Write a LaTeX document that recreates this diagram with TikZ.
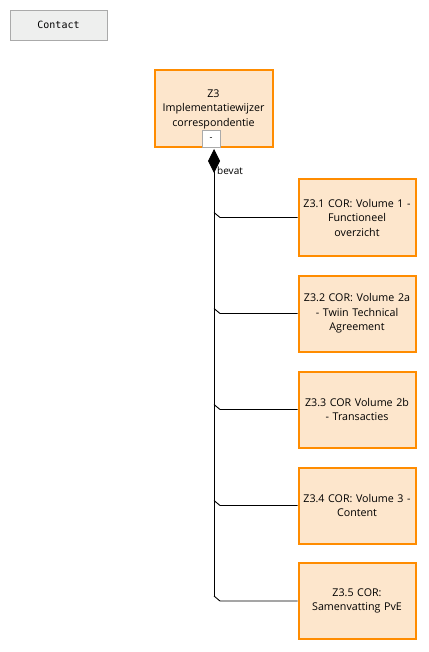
\documentclass[tikz,border=0pt]{standalone}
\usepackage{fontspec}
\setmainfont{Open Sans}
\setmonofont{DejaVu Sans Mono}
\usetikzlibrary{arrows.meta,calc}
\begin{document}
\begin{tikzpicture}[x=1pt,y=1pt,
  element/.style={draw=orange!90!yellow, line width=2pt, fill={rgb,255:red,253;green,230;blue,204}, minimum width=117pt, minimum height=76pt, align=center, inner sep=1pt, font=\fontsize{10.7}{14.5}\selectfont, text width=115pt},
  gray box/.style={draw={rgb,255:red,170;green,170;blue,170}, fill={rgb,255:red,238;green,239;blue,238}, line width=0.8pt},
  conn/.style={draw=black, line width=0.9pt}]
\useasboundingbox (0,0) rectangle (428,-652);
\node[gray box, minimum width=97pt, minimum height=30pt, font=\ttfamily\fontsize{10}{12}\selectfont] (contact) at (58.5,-25) {Contact};
\node[element, minimum width=118pt, minimum height=77pt] (z3) at (213.5,-109) {\raisebox{-1pt}{\parbox{115pt}{\centering Z3\\Implementatiewijzer\\correspondentie}}};
\node[gray box, fill=white, minimum width=18pt, minimum height=17pt, inner sep=0pt, font=\fontsize{9}{11}\selectfont, anchor=south] (collapse) at (211,-148) {-};
\node[element] (c1) at (357,-217.5) {Z3.1 COR: Volume 1 -\\Functioneel\\overzicht};
\node[element] (c2) at (357,-313.5) {Z3.2 COR: Volume 2a\\- Twiin Technical\\Agreement};
\node[element] (c3) at (357,-409.5) {Z3.3 COR Volume 2b\\- Transacties};
\node[element] (c4) at (357,-505.5) {Z3.4 COR: Volume 3 -\\Content};
\node[element] (c5) at (357,-601) {Z3.5 COR:\\Samenvatting PvE};
\coordinate (top) at (214,-149);
\coordinate (bottom) at ($(top |- c5.west)+(0,5)$);
\draw[conn, {Diamond[length=24pt,width=12pt]}-] (top) -- (bottom);
\foreach \c in {c1,c2,c3,c4,c5}{
  \draw[conn] ($(top |- \c.west)+(0,5)$) -- ($(top |- \c.west)+(6,0)$) -- (\c.west);
}
\node[anchor=west, inner sep=0pt, font=\fontsize{10}{12}\selectfont] (bevat) at (217,-171) {bevat};
\end{tikzpicture}
\end{document}
